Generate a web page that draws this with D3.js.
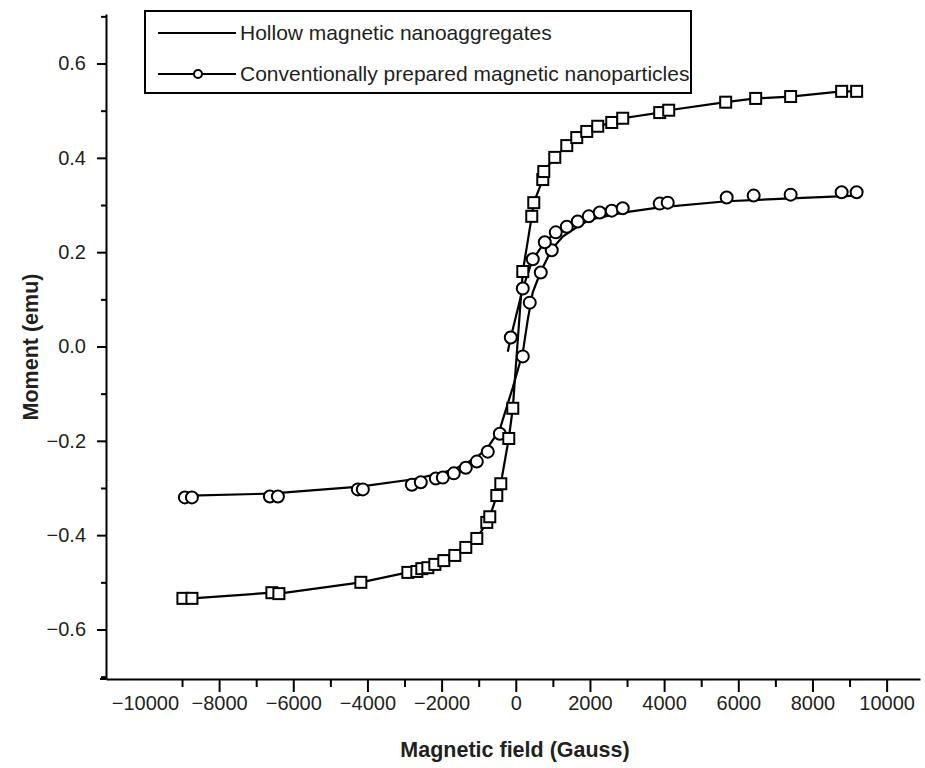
<!DOCTYPE html>
<meta charset="utf-8" />
<style>
  body { margin: 0; background: #fff; font-family: "Liberation Sans", Arial, sans-serif; }
  .axis path, .axis line { stroke: #000; stroke-width: 2; fill: none; }
  .axis text { font-size: 20px; fill: #231f20; font-family: "Liberation Sans", Arial, sans-serif; }
  .title { font-size: 21.5px; font-weight: bold; fill: #231f20; }
  .legend text { font-size: 21px; fill: #231f20; }
</style>
<body>
<script src="https://d3js.org/d3.v7.min.js"></script>
<script>
// tick values
var xTicks = [-10000, -8000, -6000, -4000, -2000, 0, 2000, 4000, 6000, 8000, 10000];
var xMinor = [-9000, -7000, -5000, -3000, -1000, 1000, 3000, 5000, 7000, 9000];
var yTicks = [-0.6, -0.4, -0.2, 0, 0.2, 0.4, 0.6];
var yMinor = [-0.7, -0.5, -0.3, -0.1, 0.1, 0.3, 0.5, 0.7];

var legendLabels = ["Hollow magnetic nanoaggregates", "Conventionally prepared magnetic nanoparticles"];

// hollow nanoaggregates (squares): [field, moment]
var squareField = [-8976, -8733, -6577, -6388, -4178, -2911, -2668, -2534, -2372, -2183, -1941, -1644, -1348, -1051, -782, -701, -512, -404, -189, -81,
  189, 431, 485, 728, 755, 1051, 1375, 1644, 1914, 2210, 2588, 2884, 3881, 4124, 5660, 6469, 7412, 8787, 9191];
var squareMoment = [-0.534, -0.534, -0.522, -0.524, -0.5, -0.479, -0.477, -0.471, -0.469, -0.462, -0.454, -0.443, -0.426, -0.407, -0.373, -0.361, -0.316, -0.291, -0.195, -0.131,
  0.159, 0.276, 0.305, 0.354, 0.371, 0.401, 0.426, 0.443, 0.456, 0.467, 0.475, 0.484, 0.496, 0.501, 0.518, 0.526, 0.530, 0.541, 0.541];

// conventional nanoparticles (circles): main curve
var circLineField = [-8787, -6631, -4205, -2803, -2156, -1671, -1348, -1051, -755, -431, -350, -81, 189, 323, 458, 674, 970, 1267, 1671, 1995, 2884, 3881, 5687, 7412, 9191];
var circLineMoment = [-0.316, -0.312, -0.297, -0.282, -0.271, -0.261, -0.248, -0.235, -0.214, -0.176, -0.155, -0.087, -0.013, 0.057, 0.115, 0.159, 0.206, 0.233, 0.254, 0.269, 0.284, 0.295, 0.308, 0.314, 0.320];
// upper branch near the origin
var circUpperField = [-216, -135, 189, 458, 782, 1078, 1375, 1671, 1968];
var circUpperMoment = [-0.011, 0.019, 0.123, 0.185, 0.221, 0.242, 0.254, 0.265, 0.276];
// circle markers
var circField = [-8922, -8733, -6631, -6415, -4259, -4124, -2803, -2561, -2156, -1968, -1671, -1348, -1051, -755, -431,
  189, 377, 674, 970,
  -135, 189, 458, 782, 1078, 1375, 1671, 1968, 2264, 2588, 2884,
  3881, 4097, 5687, 6415, 7412, 8787, 9191];
var circMoment = [-0.320, -0.320, -0.318, -0.318, -0.303, -0.303, -0.293, -0.288, -0.280, -0.278, -0.269, -0.257, -0.244, -0.223, -0.185,
  -0.021, 0.093, 0.157, 0.204,
  0.019, 0.123, 0.185, 0.221, 0.242, 0.254, 0.265, 0.276, 0.284, 0.288, 0.293,
  0.303, 0.305, 0.316, 0.320, 0.322, 0.327, 0.327];

function pts(xs, ys) { return xs.map(function (d, i) { return [d, ys[i]]; }); }

var svg = d3.select("body").append("svg").attr("width", 925).attr("height", 768);

var x = d3.scaleLinear().domain([-11050, 10900]).range([106, 920]);
var y = d3.scaleLinear().domain([-0.705, 0.705]).range([679, 14]);

var line = d3.line().x(function (d) { return x(d[0]); }).y(function (d) { return y(d[1]); });

// axes
var fmtX = d3.format("d"), fmtY = d3.format(".1f");
var xAxis = svg.append("g").attr("class", "axis")
  .attr("transform", "translate(0,679)")
  .call(d3.axisBottom(x).tickValues(xTicks).tickSize(13).tickSizeOuter(0).tickPadding(4).tickFormat(fmtX));
xAxis.selectAll(".tick").filter(function (d) { return d === -10000; }).select("line").remove();
svg.append("g").attr("class", "axis")
  .attr("transform", "translate(0,679)")
  .call(d3.axisBottom(x).tickValues(xMinor).tickSize(8).tickSizeOuter(0).tickFormat(""))
  .select(".domain").remove();
svg.append("line").attr("x1", 100).attr("x2", 106).attr("y1", 679).attr("y2", 679).attr("stroke", "#000").attr("stroke-width", 2);

svg.append("g").attr("class", "axis")
  .attr("transform", "translate(106,0)")
  .call(d3.axisLeft(y).tickValues(yTicks).tickSize(9).tickSizeOuter(0).tickPadding(11).tickFormat(fmtY));
svg.append("g").attr("class", "axis")
  .attr("transform", "translate(106,0)")
  .call(d3.axisLeft(y).tickValues(yMinor).tickSize(5).tickSizeOuter(0).tickFormat(""))
  .select(".domain").remove();

svg.append("text").attr("class", "title").attr("x", 515).attr("y", 757)
  .attr("text-anchor", "middle").text("Magnetic field (Gauss)");
svg.append("text").attr("class", "title")
  .attr("transform", "translate(38,347) rotate(-90)")
  .attr("text-anchor", "middle").text("Moment (emu)");

// lines
var lineStyle = function (sel) { sel.attr("fill", "none").attr("stroke", "#000").attr("stroke-width", 2.2); };
svg.append("path").attr("d", line(pts(squareField, squareMoment))).call(lineStyle);
svg.append("path").attr("d", line(pts(circLineField, circLineMoment))).call(lineStyle);
svg.append("path").attr("d", line(pts(circUpperField, circUpperMoment))).call(lineStyle);

// markers
svg.append("g").selectAll("circle").data(pts(circField, circMoment)).join("circle")
  .attr("cx", function (d) { return x(d[0]); })
  .attr("cy", function (d) { return y(d[1]); })
  .attr("r", 6)
  .attr("fill", "#fff").attr("stroke", "#000").attr("stroke-width", 2);

svg.append("g").selectAll("rect").data(pts(squareField, squareMoment)).join("rect")
  .attr("x", function (d) { return x(d[0]) - 5.5; })
  .attr("y", function (d) { return y(d[1]) - 5.5; })
  .attr("width", 11).attr("height", 11)
  .attr("fill", "#fff").attr("stroke", "#000").attr("stroke-width", 2);

// legend
var lg = svg.append("g").attr("class", "legend");
lg.append("rect").attr("x", 145).attr("y", 11).attr("width", 546).attr("height", 82)
  .attr("fill", "#fff").attr("stroke", "#000").attr("stroke-width", 2);
legendLabels.forEach(function (t, i) {
  var ly = 33 + i * 41;
  lg.append("line").attr("x1", 158).attr("x2", 236).attr("y1", ly).attr("y2", ly)
    .attr("stroke", "#000").attr("stroke-width", 2.2);
  if (i === 1) {
    lg.append("circle").attr("cx", 198).attr("cy", ly).attr("r", 4)
      .attr("fill", "#fff").attr("stroke", "#000").attr("stroke-width", 2);
  }
  lg.append("text").attr("x", 240).attr("y", ly + 7).text(t);
});
</script>
</body>
